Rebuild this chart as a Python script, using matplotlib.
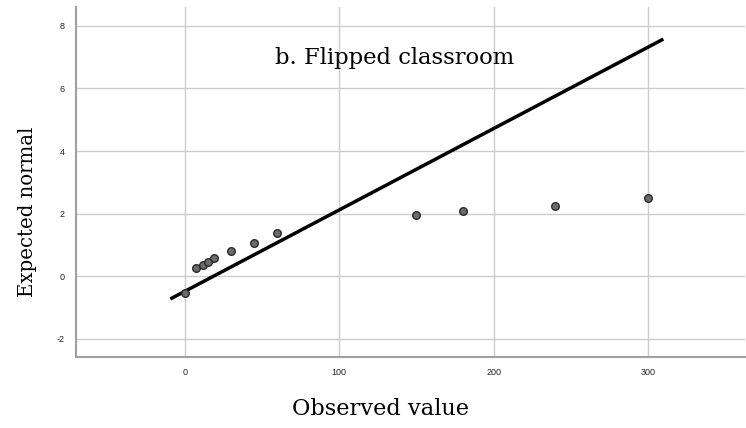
import matplotlib
matplotlib.use("Agg")
import matplotlib.pyplot as plt

plt.rcParams["axes.unicode_minus"] = False

observed = [0, 7, 12, 15, 19, 30, 45, 60, 150, 180, 240, 300]
expected = [-0.53, 0.26, 0.35, 0.46, 0.57, 0.82, 1.07, 1.38, 1.96, 2.08, 2.24, 2.5]
line_x = [-8.4, 309]
line_y = [-0.7, 7.55]
x_ticks = [0, 100, 200, 300]
y_ticks = [-2, 0, 2, 4, 6, 8]

fig = plt.figure(figsize=(7.46, 4.28), dpi=100)
ax = fig.add_axes([0.1019, 0.1659, 0.897, 0.8177])

ax.set_xlim(-70.5, 363)
ax.set_ylim(-2.58, 8.6)
ax.set_xticks(x_ticks)
ax.set_yticks(y_ticks)
ax.grid(True, color="#cccccc", linewidth=1.0)
ax.set_axisbelow(True)
for s in ["top", "right"]:
    ax.spines[s].set_visible(False)
for s in ["left", "bottom"]:
    ax.spines[s].set_color("#a0a0a0")
    ax.spines[s].set_linewidth(1.5)
ax.tick_params(length=0, labelsize=6.5, colors="#222222", pad=8)
for lbl in ax.get_xticklabels() + ax.get_yticklabels():
    lbl.set_family("Liberation Sans")

ax.plot(line_x, line_y, color="black", linewidth=2.5, zorder=3)
ax.scatter(observed, expected, s=30, facecolor="#6b6b6b", edgecolor="#2a2a2a", linewidth=1.0, zorder=4)

fig.text(0.529, (428 - 58) / 428, "b. Flipped classroom", ha="center", va="center",
         family="DejaVu Serif", fontsize=16.3)
fig.text(0.037, (428 - 212) / 428, "Expected normal", rotation=90, ha="center", va="center",
         family="DejaVu Serif", fontsize=14.2)
fig.text(0.51, (428 - 409) / 428, "Observed value", ha="center", va="center",
         family="DejaVu Serif", fontsize=16.2)

fig.savefig("out.png", dpi=100)
